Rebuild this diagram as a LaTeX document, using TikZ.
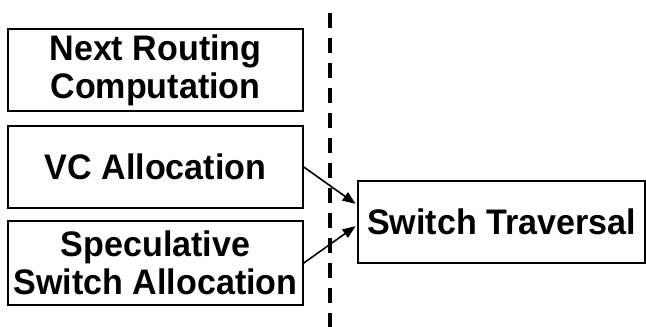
\documentclass[tikz,border=0pt]{standalone}
\usepackage{fontspec}
\setmainfont{Liberation Sans}[FakeStretch=0.96]
\usetikzlibrary{arrows.meta}
\begin{document}
\begin{tikzpicture}[x=1pt,y=-1pt,
  box/.style={draw, line width=1.6pt, inner sep=0pt, align=center,
    font=\fontsize{35.5}{38}\selectfont\bfseries},
  arr/.style={line width=1.6pt, -{Triangle[length=13pt,width=10pt]}, shorten >=2pt},
  sep/.style={line width=3.2pt, dash pattern=on 15pt off 10pt}]
\useasboundingbox (0,0) rectangle (646,327);
\node[box, minimum width=295pt, minimum height=82pt] (nrc) at (155.5,70) {Next Routing\\Computation};
\node[box, minimum width=295pt, minimum height=82pt] (vca) at (155.5,167) {VC Allocation};
\node[box, minimum width=295pt, minimum height=84pt] (ssa) at (155.5,263) {Speculative\\Switch Allocation};
\node[box, minimum width=287pt, minimum height=82pt] (st) at (501.5,222) {Switch Traversal};
\coordinate (dtop) at (330,13);
\coordinate (dbot) at (330,330);
\draw[sep] (dtop) -- (dbot);
\draw[arr] (vca.east) -- ([yshift=17pt]st.west);
\draw[arr] (ssa.east) -- ([yshift=-3pt]st.west);
\end{tikzpicture}
\end{document}
